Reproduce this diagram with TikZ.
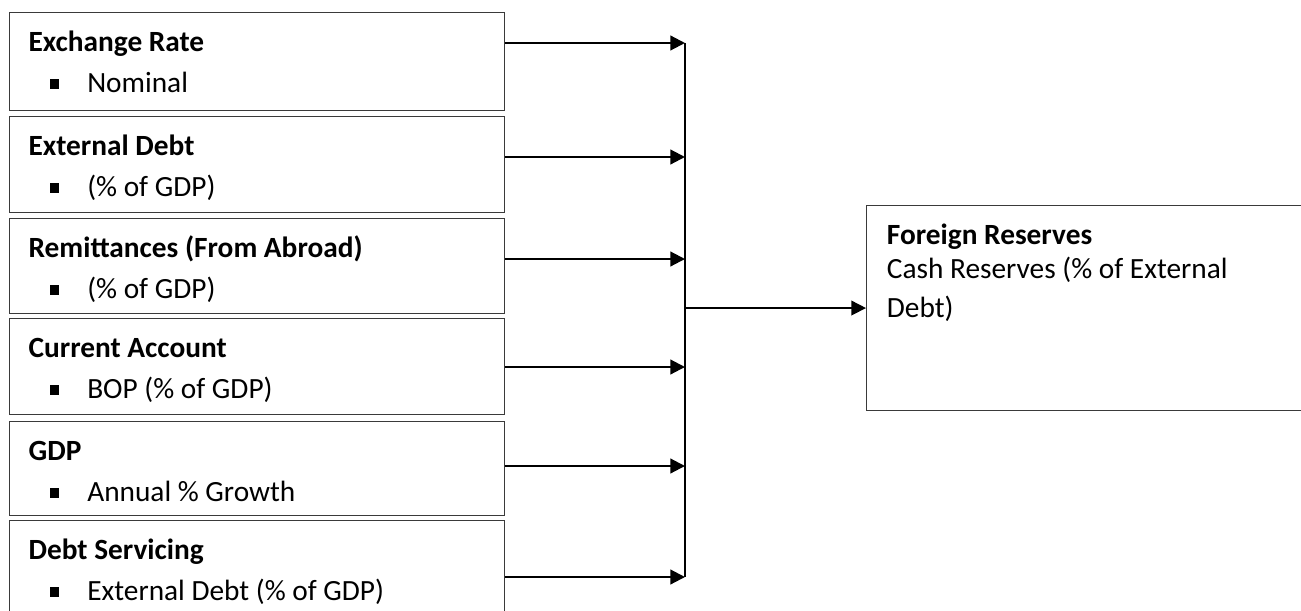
\documentclass[tikz,border=0pt]{standalone}
\usepackage{fontspec}
\setmainfont{Carlito}
\usetikzlibrary{arrows.meta,positioning}
\definecolor{Ink}{HTML}{000000}
\definecolor{Frame}{HTML}{3A3A3A}
\tikzset{
 every node/.style={font=\fontsize{22}{26}\selectfont,text=Ink},
 arr/.style={-{Triangle[length=11pt,width=11pt]},line width=1.6pt,draw=Ink},
 feed/.style={-{Triangle[length=11pt,width=11pt]},line width=1.2pt,draw=Ink},
 bar/.style={line width=1.6pt,draw=Ink},
 panel/.style={draw=Frame,line width=.8pt,inner sep=0pt,anchor=north west},
 head/.style={font=\fontsize{22}{26}\selectfont\bfseries,anchor=base west,inner sep=0pt},
 item/.style={anchor=base west,inner sep=0pt},
 }
\newcommand{\sqbul}{\makebox[27.75pt][l]{\rule[2pt]{6.8pt}{7.4pt}}}

\begin{document}
\begin{tikzpicture}[x=.75pt,y=-.75pt]
 \useasboundingbox (0,0) rectangle (1301,610);
 % drivers on the left
 \foreach \i/\yt/\h/\ya/\ttl/\txt in {
  1/12/98/43/{Exchange Rate}/{Nominal},
  2/116/96/157/{External Debt}/{(\% of GDP)},
  3/218/95/259/{Remittances (From Abroad)}/{(\% of GDP)},
  4/318/96/367/{Current Account}/{BOP (\% of GDP)},
  5/421/94/466/{GDP}/{Annual \% Growth},
  6/520/110/577/{Debt Servicing}/{External Debt (\% of GDP)}}{
  \node[panel,minimum width=371.25pt,minimum height=\h*.75pt] (b\i) at (9,\yt) {};
  \node[head] (t\i) at ([xshift=14.5pt,yshift=-29.5pt]b\i.north west) {\ttl};
  \node[item] (s\i) at ([xshift=30.75pt,yshift=-60pt]b\i.north west) {\sqbul\txt};
  \coordinate (j\i) at (685,\ya);
  \draw[arr] (b\i.east |- j\i) -- (j\i);
 }
 \draw[bar] (j1) -- (j6);
 % target
 \node[panel,minimum width=345pt,minimum height=153.75pt] (res) at (866,205) {};
 \node[head] (tr) at ([xshift=15.5pt,yshift=-29.5pt]res.north west) {Foreign Reserves};
 \node[item,align=left,font=\fontsize{22}{29.25}\selectfont] (sr) at ([xshift=15.5pt,yshift=-84pt]res.north west) {Cash Reserves (\% of External\\Debt)};
 \draw[feed] (res.west -| j1) -- (res.west);
\end{tikzpicture}
\end{document}
